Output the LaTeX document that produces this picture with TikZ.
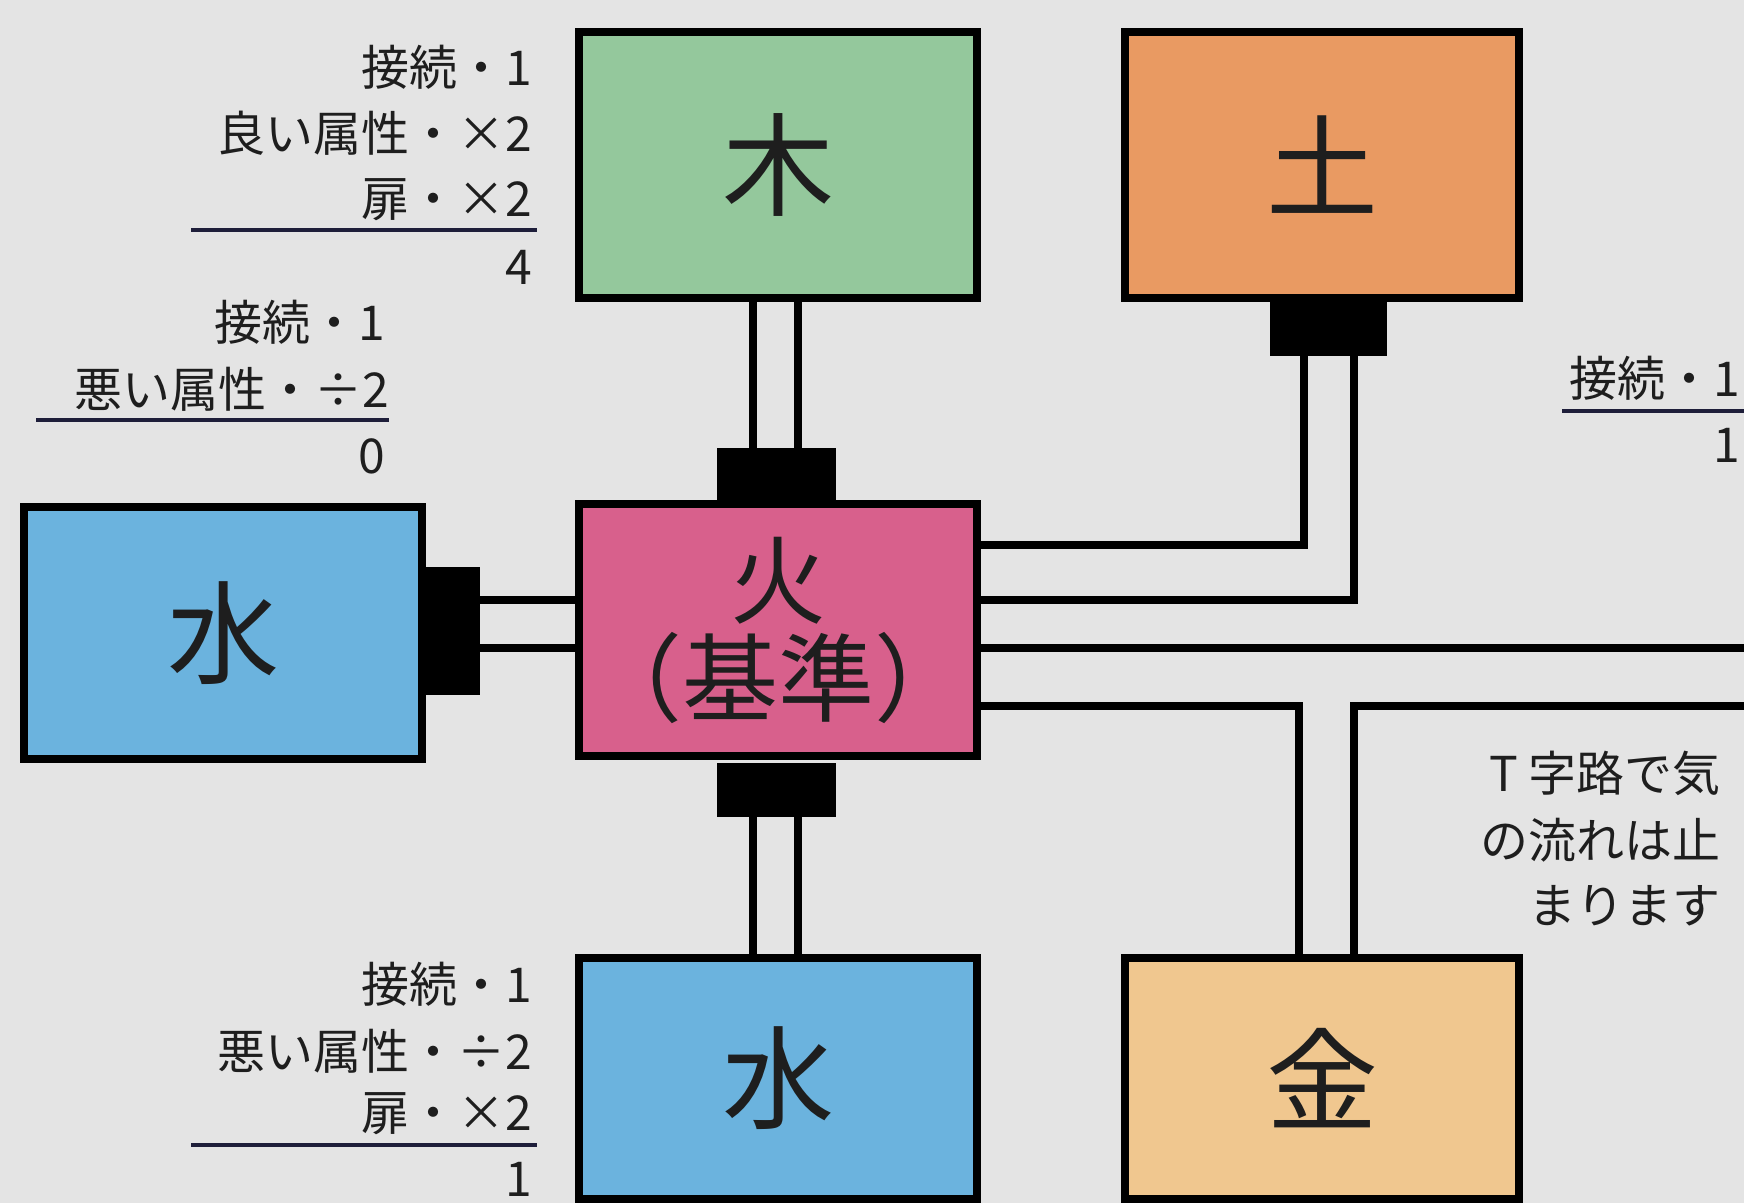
\documentclass[tikz,border=0pt]{standalone}
\usepackage{fontspec}
\setmainfont{Noto Sans CJK JP}
\definecolor{bgc}{HTML}{E4E4E4}
\definecolor{woodc}{HTML}{94C89C}
\definecolor{earthc}{HTML}{E99A62}
\definecolor{firec}{HTML}{D8608C}
\definecolor{waterc}{HTML}{6BB3DE}
\definecolor{metalc}{HTML}{F0C78F}
\definecolor{ink}{HTML}{1E1E1E}
\definecolor{rulec}{HTML}{1E1E3A}
\begin{document}
\begin{tikzpicture}[x=1pt,y=-1pt,
  elem/.style={draw=black, line width=8pt, minimum width=398pt, minimum height=266pt, inner sep=0pt, text=ink, font=\fontsize{112}{112}\selectfont},
  plug/.style={fill=black, draw=none, inner sep=0pt},
  wire/.style={line width=8pt, draw=black},
  lbl/.style={anchor=east, inner sep=0pt, text=ink, font=\fontsize{48}{48}\selectfont},
  rulel/.style={line width=4pt, draw=rulec}
]
\fill[bgc] (0,0) rectangle (1744,1203);
\useasboundingbox (0,0) rectangle (1744,1203);

% helper coordinates
\coordinate (v1) at (753,0);
\coordinate (v2) at (798,0);
\coordinate (v3) at (1304,0);
\coordinate (v4) at (1354,0);
\coordinate (v5) at (1299,0);
\coordinate (h1) at (0,545);
\coordinate (h2) at (0,600);
\coordinate (h3) at (0,648);
\coordinate (h4) at (0,706);
\coordinate (redge) at (1744,0);

% plugs
\node[plug, minimum width=119pt, minimum height=55pt] (plugT) at (776.5,475.5) {};
\node[plug, minimum width=119pt, minimum height=54pt] (plugB) at (776.5,790) {};
\node[plug, minimum width=54pt, minimum height=128pt] (plugL) at (453,631) {};
\node[plug, minimum width=117pt, minimum height=54pt] (plugE) at (1328.5,329) {};

% elements
\node[elem, fill=woodc] (wood) at (778,165) {木};
\node[elem, fill=earthc, minimum width=394pt] (earth) at (1322,165) {土};
\node[elem, fill=firec, minimum height=252pt, align=center, font=\fontsize{96}{98}\selectfont] (fire) at (778,630) {火\\（基準）};
\node[elem, fill=waterc, minimum height=252pt] (waterL) at (223,633) {水};
\node[elem, fill=waterc, minimum height=241pt] (waterB) at (778,1078.5) {水};
\node[elem, fill=metalc, minimum width=394pt, minimum height=241pt] (metal) at (1322,1078.5) {金};

% wires
\draw[wire] (wood.south -| v1) -- (plugT.north -| v1);
\draw[wire] (wood.south -| v2) -- (plugT.north -| v2);
\draw[wire] (plugB.south -| v1) -- (waterB.north -| v1);
\draw[wire] (plugB.south -| v2) -- (waterB.north -| v2);
\draw[wire] (plugL.east |- h2) -- (fire.west |- h2);
\draw[wire] (plugL.east |- h3) -- (fire.west |- h3);
\draw[wire] (plugE.south -| v3) -- (v3 |- h1) -- (fire.east |- h1);
\draw[wire] (plugE.south -| v4) -- (v4 |- h2) -- (fire.east |- h2);
\draw[wire] (fire.east |- h3) -- (redge |- h3);
\draw[wire] (metal.north -| v5) -- (v5 |- h4) -- (fire.east |- h4);
\draw[wire] (metal.north -| v4) -- (v4 |- h4) -- (redge |- h4);

% label: wood
\node[lbl] (a1) at (532,67) {接続・1};
\node[lbl] (a2) at (532,133) {良い属性・×2};
\node[lbl] (a3) at (532,200) {扉・×2};
\coordinate (a4l) at (191,230);
\coordinate (a4r) at (537,230);
\draw[rulel] (a4l) -- (a4r);
\node[lbl] (a5) at (532,267) {4};

% label: left water
\node[lbl] (b1) at (385,322) {接続・1};
\node[lbl] (b2) at (389,389) {悪い属性・÷2};
\coordinate (b3l) at (36,420);
\coordinate (b3r) at (389,420);
\draw[rulel] (b3l) -- (b3r);
\node[lbl] (b4) at (385,456) {0};

% label: earth
\node[lbl] (c1) at (1740,378) {接続・1};
\coordinate (c2l) at (1562,411);
\coordinate (c2r) at (1744,411);
\draw[rulel] (c2l) -- (c2r);
\node[lbl] (c3) at (1740,445) {1};

% note
\node[lbl] (n1) at (1721,773) {T 字路で気};
\node[lbl] (n2) at (1721,840) {の流れは止};
\node[lbl] (n3) at (1721,906) {まります};

% label: bottom water
\node[lbl] (d1) at (532,984) {接続・1};
\node[lbl] (d2) at (532,1051) {悪い属性・÷2};
\node[lbl] (d3) at (532,1114) {扉・×2};
\coordinate (d4l) at (191,1145);
\coordinate (d4r) at (537,1145);
\draw[rulel] (d4l) -- (d4r);
\node[lbl] (d5) at (532,1179) {1};
\end{tikzpicture}
\end{document}
